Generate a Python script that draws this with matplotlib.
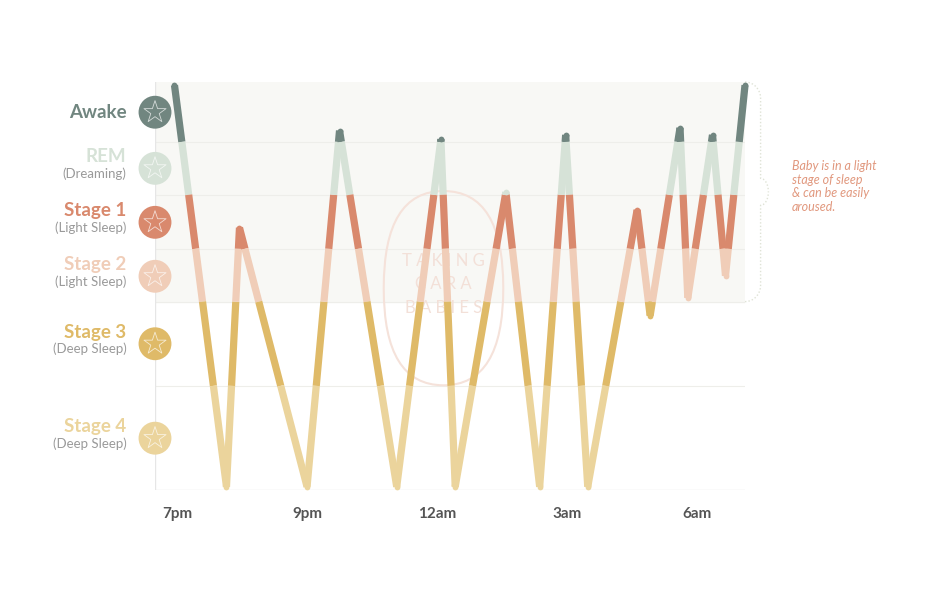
import matplotlib
matplotlib.use("Agg")
import matplotlib.pyplot as plt
from matplotlib.patches import FancyBboxPatch
import numpy as np

stages = ["Awake", "REM", "Stage 1", "Stage 2", "Stage 3", "Stage 4"]
subtitles = ["", "(Dreaming)", "(Light Sleep)", "(Light Sleep)", "(Deep Sleep)", "(Deep Sleep)"]
colors = ["#718680", "#d6e2d7", "#d9896d", "#f0cdb8", "#dfba68", "#ebd49c"]
boundaries = [0, 1.11, 2.09, 3.09, 4.07, 5.63, 7.56]
label_depth = [0.56, 1.6, 2.6, 3.6, 4.85, 6.6]
tick_labels = ["7pm", "9pm", "12am", "3am", "6am"]
# time in tick units, depth in stage-scale units
time = [-0.02, 0.38, 0.48, 1.0, 1.25, 1.69, 2.03, 2.14, 2.53, 2.79, 2.99, 3.16, 3.54, 3.64, 3.87, 3.93, 4.12, 4.22, 4.37]
depth = [0.06, 7.5, 2.7, 7.5, 0.9, 7.5, 1.06, 7.5, 2.04, 7.5, 0.98, 7.5, 2.37, 4.33, 0.85, 4.0, 0.98, 3.59, 0.06]

fig = plt.figure(figsize=(9.37, 6.0), dpi=100)
ax = fig.add_axes([155/937, 1-490/600, 590/937, 408/600])
ax.set_xlim(-0.17, 4.37)
ax.set_ylim(boundaries[-1], 0)

ax.axhspan(0, boundaries[4], color="#f8f8f5", zorder=0)
for b in boundaries[1:-1]:
    ax.axhline(b, color="#eeeeea", lw=0.8, zorder=1)

wm = FancyBboxPatch((1.59, 2.02), 0.92, 3.6, boxstyle="round,pad=0,rounding_size=0.46",
                    fc="none", ec="#f5e2da", lw=1.5, zorder=1, mutation_aspect=3.9)
ax.add_patch(wm)
ax.text(2.05, 3.75, "T A K I N G\nC A R A\nB A B I E S", ha="center", va="center",
        color="#f3e0d8", fontsize=12, family="Lato", zorder=1, linespacing=1.6)

def band_of(d):
    for i in range(len(boundaries)-1):
        if d <= boundaries[i+1]:
            return i
    return len(boundaries)-2

LW = 5.2
for i in range(len(time)-1):
    x0, y0, x1, y1 = time[i], depth[i], time[i+1], depth[i+1]
    ts = [0.0, 1.0]
    for b in boundaries[1:-1]:
        if (y0 - b) * (y1 - b) < 0:
            ts.append((b - y0) / (y1 - y0))
    ts.sort()
    for a, c in zip(ts[:-1], ts[1:]):
        xa, ya = x0 + a*(x1-x0), y0 + a*(y1-y0)
        xc, yc = x0 + c*(x1-x0), y0 + c*(y1-y0)
        k = band_of((ya+yc)/2)
        ax.plot([xa, xc], [ya, yc], color=colors[k], lw=LW,
                solid_capstyle="butt", zorder=3, clip_on=False)
for x, d in zip(time, depth):
    ax.plot([x], [d], marker="o", ms=LW*0.8, color=colors[band_of(d)], mec="none",
            zorder=3, clip_on=False)

for s in ax.spines.values():
    s.set_visible(False)
ax.axvline(-0.17, color="#e6e6e6", lw=1, zorder=2)
ax.axhline(boundaries[-1], color="#e6e6e6", lw=1, zorder=2)

ax.set_xticks(range(len(tick_labels)))
ax.set_xticklabels(tick_labels, fontsize=11, fontweight="bold", color="#555555", family="Lato")
ax.tick_params(length=0, pad=12)
ax.set_yticks([])

for i, st in enumerate(stages):
    yd = label_depth[i]
    ax.scatter([-0.17], [yd], s=560, color=colors[i], clip_on=False, zorder=5, edgecolors="none")
    ax.scatter([-0.17], [yd], s=280, marker="*", facecolors="none", edgecolors="white",
               linewidths=0.6, clip_on=False, zorder=6, alpha=0.7)
    if subtitles[i]:
        ax.text(-0.39, yd - 0.06, st, ha="right", va="bottom", fontsize=13.5, fontweight="bold",
                color=colors[i], family="Lato")
        ax.text(-0.39, yd - 0.02, subtitles[i], ha="right", va="top", fontsize=9.5,
                color="#9a9a9a", family="Lato")
    else:
        ax.text(-0.39, yd, st, ha="right", va="center", fontsize=13.5, fontweight="bold",
                color=colors[i], family="Lato")

# brace
bx = 4.37
yt, yb = 0.0, boundaries[4]
ym = (yt+yb)/2
bc = "#dfe3d6"
for sgn, yend in ((1, yt), (-1, yb)):
    xs = np.concatenate([bx + 0.12*np.sin(np.linspace(0, np.pi/2, 10)),
                         np.full(20, bx+0.12),
                         bx + 0.12 + 0.06*np.sin(np.linspace(0, np.pi/2, 10))])
    ys = np.concatenate([yend + sgn*0.3*(1-np.cos(np.linspace(0, np.pi/2, 10))),
                         np.linspace(yend + sgn*0.3, ym - sgn*0.25, 20),
                         ym - sgn*0.25*np.cos(np.linspace(0, np.pi/2, 10))])
    ax.plot(xs, ys, color=bc, lw=1, ls=(0, (1, 1.5)), clip_on=False)
ax.text(4.73, 1.45, "Baby is in a light\nstage of sleep\n& can be easily\naroused.", ha="left", va="top",
        fontsize=9, style="italic", color="#e1987e", family="Lato", linespacing=1.15)

fig.savefig("out.png", dpi=100)
